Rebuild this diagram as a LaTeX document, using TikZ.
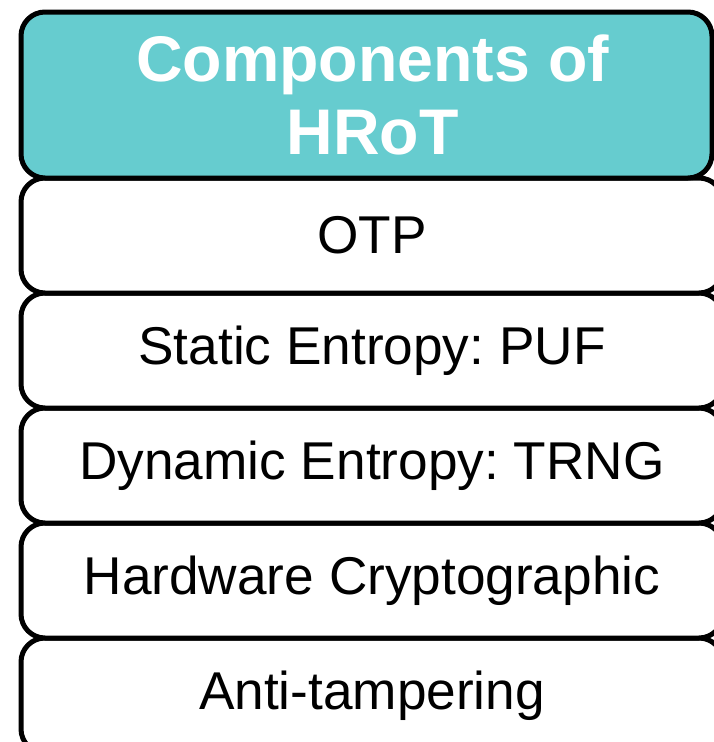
\documentclass[tikz,border=0pt]{standalone}
\usepackage{fontspec}
\setmainfont{Liberation Sans}
\definecolor{teal1}{RGB}{102,204,207}
\frenchspacing
\begin{document}
\begin{tikzpicture}[x=1pt,y=-1pt,
  cell/.style={draw=black, line width=5pt, rounded corners=24pt, fill=white,
    minimum width=702pt, minimum height=115pt, inner sep=0pt, anchor=north west,
    font=\fontsize{53.2}{60}\selectfont},
  head/.style={draw=black, line width=5pt, rounded corners=24pt, fill=teal1,
    minimum width=691pt, minimum height=166pt, inner sep=0pt, anchor=north west,
    text=white, align=center, font=\fontsize{64.5}{73}\selectfont\bfseries}]
\useasboundingbox (0,0) rectangle (714,742);
\clip (0,0) rectangle (714,742);
\node[cell] (e) at (18.5,635.5) {Anti-tampering};
\node[cell] (d) at (18.5,520.5) {Hardware Cryptographic};
\node[cell] (c) at (18.5,405.5) {Dynamic Entropy: TRNG};
\node[cell] (b) at (18.5,290.5) {Static Entropy: PUF};
\node[cell] (a) at (18.5,175.5) {OTP};
\node[head] (h) at (18.5,9.5) {\hspace*{12pt}Components of\\\hspace*{12pt}HRoT};
\end{tikzpicture}
\end{document}
